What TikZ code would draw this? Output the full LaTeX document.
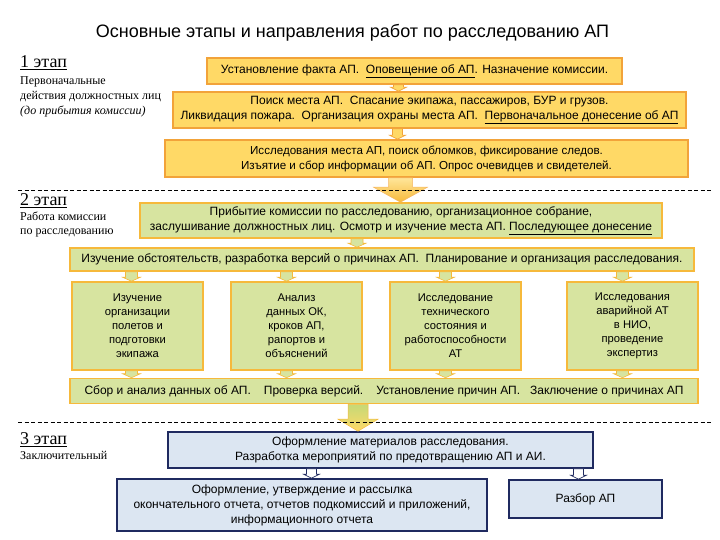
\documentclass[tikz,border=0pt]{standalone}
\usepackage{fontspec}
\setmainfont{Liberation Sans}
\newfontfamily\labfont{Liberation Serif}
\usetikzlibrary{calc}
\definecolor{orfill}{HTML}{FFD966}
\definecolor{orlight}{HTML}{FFE699}
\definecolor{orline}{HTML}{F2A33A}
\definecolor{ordark}{HTML}{F6B93B}
\definecolor{grfill}{HTML}{D7E4A0}
\definecolor{grdark}{HTML}{C5D977}
\definecolor{blfill}{HTML}{DCE6F2}
\definecolor{blline}{HTML}{1F2A60}
\newcommand\blockarr[6]{%
  \path[#1] let \p1=#2, \p2=#3 in
    (\x1-#4,\y1) -- (\x1+#4,\y1) -- (\x1+#4,\y2+#6) -- (\x1+#5,\y2+#6)
    -- (\x1,\y2) -- (\x1-#5,\y2+#6) -- (\x1-#4,\y2+#6) -- cycle;}
\begin{document}
\begin{tikzpicture}[x=1pt,y=-1pt,
  box/.style={rectangle, inner sep=0pt, align=center,
    font=\fontsize{12}{15}\selectfont},
  obox/.style={box, fill=orfill, draw=orline, line width=1.6pt},
  gbox/.style={box, fill=grfill, draw=ordark, line width=1.6pt},
  bbox/.style={box, fill=blfill, draw=blline, line width=1.6pt},
  colbox/.style={gbox, minimum width=131pt, minimum height=88pt, font=\fontsize{11.2}{14}\selectfont},
  osarr/.style={fill=orfill, draw=orline, line width=0.6pt},
  gsarr/.style={fill=grfill, draw=ordark, line width=0.6pt},
  bsarr/.style={fill=white, draw=blline, line width=0.6pt},
  bigarr/.style={top color=orlight, bottom color=ordark, draw=orline!80, line width=0.5pt},
  bigarrg/.style={top color=grdark, bottom color=orfill, draw=ordark, line width=0.5pt},
  stage/.style={anchor=west, inner sep=0pt, font=\labfont\fontsize{18}{20}\selectfont},
  note/.style={anchor=north west, inner sep=0pt, align=left, font=\labfont\fontsize{12}{15}\selectfont},
  sep/.style={dash pattern=on 4pt off 2.5pt, line width=0.7pt}
]
\useasboundingbox (0,0) rectangle (720,540);

\node[font=\fontsize{18}{21}\selectfont] (title) at (352.5,33) {Основные этапы и направления работ по расследованию АП};

% stage labels
\node[stage] (s1) at (20,63) {\underline{1 этап}};
\node[note] (n1) at (20,76) {Первоначальные\\действия должностных лиц\\\textit{(до прибытия комиссии)}};
\node[stage] (s2) at (20,201) {\underline{2 этап}};
\node[note, font=\labfont\fontsize{12}{14}\selectfont] (n2) at (20,212) {Работа комиссии\\по расследованию};
\node[stage] (s3) at (20,440) {\underline{3 этап}};
\node[note] (n3) at (20,451) {Заключительный};

% stage 1
\node[obox, minimum width=415pt, minimum height=26pt] (b1) at (414.5,71)
  {Установление факта АП.\ \ \underline{Оповещение об АП}. Назначение комиссии.};
\node[obox, minimum width=513pt, minimum height=36pt] (b2) at (429.5,110)
  {Поиск места АП.\ \ Спасание экипажа, пассажиров, БУР и грузов.\\
   Ликвидация пожара.\ \ Организация охраны места АП.\ \ \underline{Первоначальное донесение об АП}};
\node[obox, minimum width=523pt, minimum height=37pt, font=\fontsize{11.6}{15}\selectfont] (b3) at (426.5,158.5)
  {Исследования места АП, поиск обломков, фиксирование следов.\\
   Изъятие и сбор информации об АП. Опрос очевидцев и свидетелей.};

% stage 2
\node[gbox, minimum width=522pt, minimum height=35pt] (b4) at (401,220.5)
  {Прибытие комиссии по расследованию, организационное собрание,\\
   заслушивание должностных лиц. Осмотр и изучение места АП. \underline{Последующее донесение}};
\node[gbox, minimum width=624pt, minimum height=23pt] (b5) at (382,259.5)
  {Изучение обстоятельств, разработка версий о причинах АП.\ \ Планирование и организация расследования.};
\node[colbox] (c1) at (137.5,326)
  {Изучение\\организации\\полетов и\\подготовки\\экипажа};
\node[colbox] (c2) at (296.5,326)
  {Анализ\\данных ОК,\\кроков АП,\\рапортов и\\объяснений};
\node[colbox] (c3) at (455.5,326)
  {Исследование\\технического\\состояния и\\работоспособности\\АТ};
\node[colbox] (c4) at (632.5,326)
  {Исследования\\аварийной АТ\\в НИО,\\проведение\\экспертиз};
\node[gbox, minimum width=628pt, minimum height=25pt] (b6) at (384,391)
  {Сбор и анализ данных об АП.\hspace{13pt}Проверка версий.\hspace{13pt}Установление причин АП.\hspace{10pt}Заключение о причинах АП};

% stage 3
\node[bbox, minimum width=425pt, minimum height=36pt] (b7) at (380.5,450)
  {\hspace*{20pt}Оформление материалов расследования.\\
   \hspace*{20pt}Разработка мероприятий по предотвращению АП и АИ.};
\node[bbox, minimum width=370pt, minimum height=52pt] (b8) at (302,505)
  {Оформление, утверждение и рассылка\\
   окончательного отчета, отчетов подкомиссий и приложений,\\
   информационного отчета};
\node[bbox, minimum width=153pt, minimum height=38pt] (b9) at (585.5,499)
  {Разбор АП};

% arrow anchor points
\coordinate (c1t) at ([xshift=-6pt]c1.north);
\coordinate (c2t) at ([xshift=-10pt]c2.north);
\coordinate (c3t) at ([xshift=-10pt]c3.north);
\coordinate (c4t) at ([xshift=-10pt]c4.north);
\coordinate (c1b) at ([xshift=-6pt]c1.south);
\coordinate (c2b) at ([xshift=-10pt]c2.south);
\coordinate (c3b) at ([xshift=-10pt]c3.south);
\coordinate (c4b) at ([xshift=-10pt]c4.south);
\coordinate (b6b) at ([xshift=-26pt]b6.south);
\coordinate (b7l) at ([xshift=-69pt]b7.south);
\coordinate (b7r) at ([xshift=198pt]b7.south);

% connectors
\blockarr{osarr}{([xshift=-16pt]b1.south)}{(b2.north)}{5pt}{8pt}{4pt}
\blockarr{osarr}{([xshift=-32pt]b2.south)}{(b3.north)}{5pt}{8pt}{4pt}
\blockarr{bigarr}{([xshift=-26pt]b3.south)}{(b4.north)}{12pt}{27pt}{15pt}
\blockarr{gsarr}{([xshift=-44pt]b4.south)}{(b5.north)}{6pt}{9pt}{4pt}
\blockarr{gsarr}{(c1t |- b5.south)}{(c1t)}{6pt}{9pt}{4pt}
\blockarr{gsarr}{(c2t |- b5.south)}{(c2t)}{6pt}{9pt}{4pt}
\blockarr{gsarr}{(c3t |- b5.south)}{(c3t)}{6pt}{9pt}{4pt}
\blockarr{gsarr}{(c4t |- b5.south)}{(c4t)}{6pt}{9pt}{4pt}
\blockarr{gsarr}{(c1b)}{(c1b |- b6.north)}{6pt}{9pt}{4pt}
\blockarr{gsarr}{(c2b)}{(c2b |- b6.north)}{6pt}{9pt}{4pt}
\blockarr{gsarr}{(c3b)}{(c3b |- b6.north)}{6pt}{9pt}{4pt}
\blockarr{gsarr}{(c4b)}{(c4b |- b6.north)}{6pt}{9pt}{4pt}
\blockarr{bigarrg}{(b6b)}{(b6b |- b7.north)}{10pt}{20pt}{12pt}
\blockarr{bsarr}{(b7l)}{(b7l |- b8.north)}{5pt}{8pt}{4pt}
\blockarr{bsarr}{(b7r)}{(b7r |- b9.north)}{5pt}{8pt}{4pt}

% separators
\draw[sep] (18,190) -- (712,190);
\draw[sep] (18,422) -- (712,422);
\end{tikzpicture}
\end{document}
